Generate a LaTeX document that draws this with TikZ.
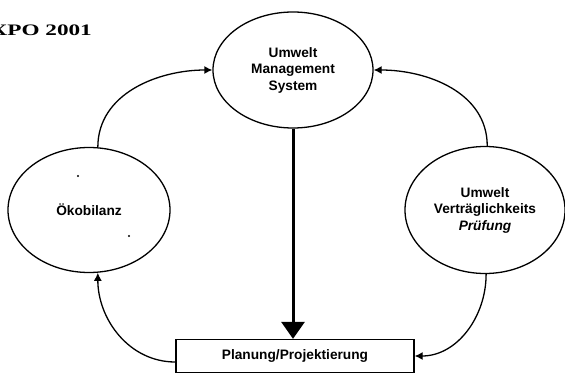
\documentclass[tikz,border=0pt]{standalone}
\usepackage{fontspec}
\setmainfont{Liberation Sans}
\newfontfamily\titlefont{Liberation Serif}
\usetikzlibrary{arrows.meta,shapes.geometric}
\begin{document}
\begin{tikzpicture}[x=1pt,y=1pt,
  lbl/.style={font=\fontsize{13.7}{16.5}\selectfont\bfseries, align=center},
  oval/.style={ellipse, draw, line width=1.3pt, inner sep=0pt, lbl},
  conn/.style={line width=1.3pt, -{Latex[length=8pt,width=8pt]}},
  mainarrow/.style={line width=3pt, -{Triangle[length=17pt,width=23pt]}}
]
\useasboundingbox (0,0) rectangle (565,373);
\clip (0,0) rectangle (565,373);
\node[anchor=base east, font=\titlefont\bfseries\fontsize{16}{18}\selectfont, inner sep=0pt] (title) at (92,337) {\scalebox{1.45}[1]{EXPO 2001}};
\node[oval, minimum width=160pt, minimum height=116pt] (ums) at (293,303) {Umwelt\\Management\\System};
\node[oval, minimum width=162pt, minimum height=125pt] (oeko) at (89,163) {Ökobilanz};
\node[oval, minimum width=160pt, minimum height=127pt] (uvp) at (485,163) {Umwelt\\Verträglichkeits\\\textit{Prüfung}};
\node[draw, line width=1.3pt, minimum width=238pt, minimum height=33pt, inner sep=0pt, lbl] (box) at (295,17) {Planung/Projektierung};
\fill (78,197) circle (1.1pt);
\fill (129,137) circle (1.1pt);
\draw[mainarrow] (ums.south) -- (ums.south |- box.north);
\draw[conn] (oeko.82) to[out=90,in=180] (ums.west);
\draw[conn] (uvp.88) to[out=90,in=0] (ums.east);
\draw[conn] (uvp.-89) to[out=-90,in=0] (box.east);
\draw[conn] ([yshift=-6pt]box.west) to[out=180,in=-90] (oeko.-82);
\end{tikzpicture}
\end{document}
